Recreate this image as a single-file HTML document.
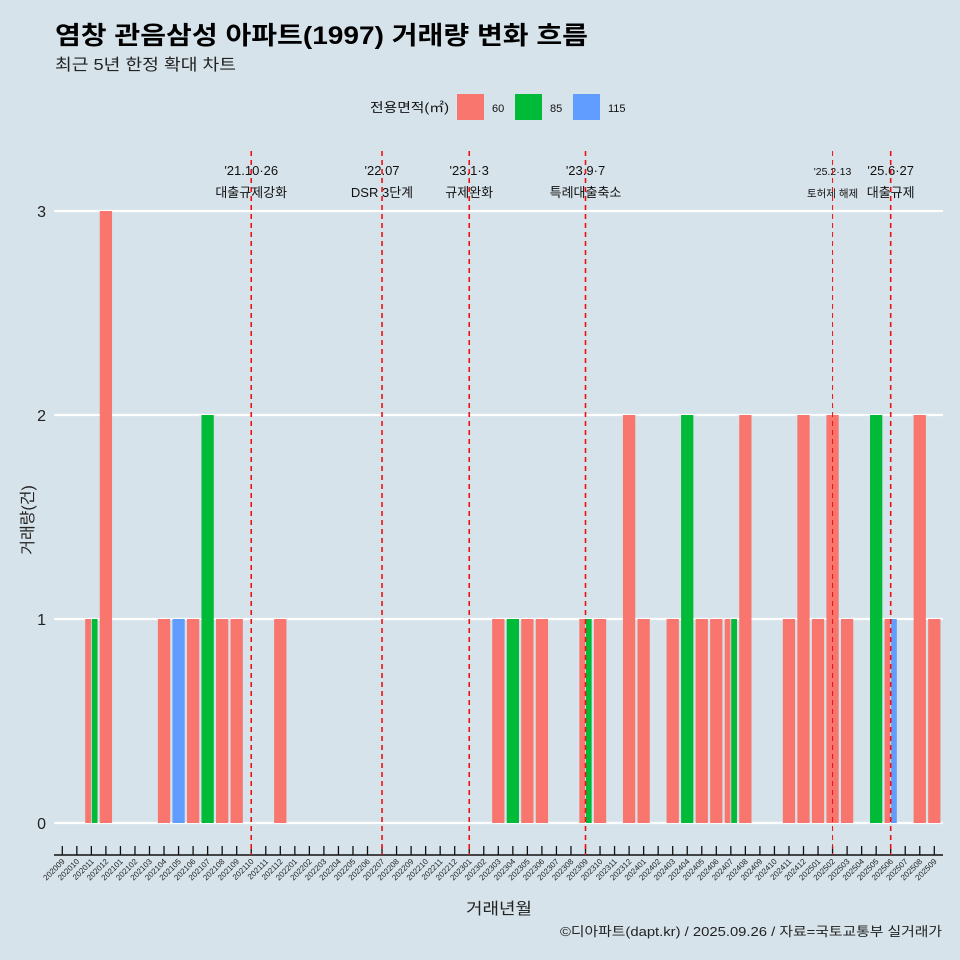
<!DOCTYPE html>
<html><head><meta charset="utf-8">
<style>
html,body{margin:0;padding:0;background:#d6e3ea;}
svg{display:block;font-family:"Liberation Sans","Noto Sans CJK KR",sans-serif;}
</style></head>
<body>
<svg id="chart" width="960" height="960" viewBox="0 0 960 960">
<rect x="0" y="0" width="960" height="960" fill="#d6e3ea"/>
<text x="55" y="44" font-size="25" font-weight="bold" fill="#000" textLength="533" lengthAdjust="spacingAndGlyphs">염창 관음삼성 아파트(1997) 거래량 변화 흐름</text>
<text x="55" y="70" font-size="16" fill="#222" textLength="181" lengthAdjust="spacingAndGlyphs">최근 5년 한정 확대 차트</text>
<g>
<text x="370" y="112" font-size="13" fill="#111" textLength="79" lengthAdjust="spacingAndGlyphs">전용면적(㎡)</text>
<rect x="457" y="94" width="27" height="26" fill="#F8766D"/>
<text x="492" y="112" font-size="11" fill="#111">60</text>
<rect x="515" y="94" width="27" height="26" fill="#00BA38"/>
<text x="550" y="112" font-size="11" fill="#111">85</text>
<rect x="573" y="94" width="27" height="26" fill="#619CFF"/>
<text x="608" y="112" font-size="11" fill="#111">115</text>
</g>
<g id="grid"></g><g id="bars"></g><g id="xaxis"></g><g id="events"></g>
<text x="499" y="914" font-size="16" text-anchor="middle" fill="#222" textLength="66" lengthAdjust="spacingAndGlyphs">거래년월</text>
<text transform="translate(33,520) rotate(-90)" font-size="16" text-anchor="middle" fill="#222">거래량(건)</text>
<text x="942" y="936" font-size="13" text-anchor="end" fill="#222" textLength="382" lengthAdjust="spacingAndGlyphs">©디아파트(dapt.kr) / 2025.09.26 / 자료=국토교통부 실거래가</text>
</svg>
<script>
const months=["202009","202010","202011","202012","202101","202102","202103","202104","202105","202106","202107","202108","202109","202110","202111","202112","202201","202202","202203","202204","202205","202206","202207","202208","202209","202210","202211","202212","202301","202302","202303","202304","202305","202306","202307","202308","202309","202310","202311","202312","202401","202402","202403","202404","202405","202406","202407","202408","202409","202410","202411","202412","202501","202502","202503","202504","202505","202506","202507","202508","202509"];
const types=["60","85","115"];
const colors={"60":"#F8766D","85":"#00BA38","115":"#619CFF"};
const recMonth=["202011","202011","202012","202104","202105","202106","202107","202108","202109","202112","202303","202304","202305","202306","202309","202309","202310","202312","202401","202403","202404","202405","202406","202407","202407","202408","202411","202412","202501","202502","202503","202505","202506","202506","202508","202509"];
const recType=["60","85","60","60","115","60","85","60","60","60","60","85","60","60","60","85","60","60","60","60","85","60","60","60","85","60","60","60","60","60","60","85","60","115","60","60"];
const recCount=[1,1,3,1,1,1,2,1,1,1,1,1,1,1,1,1,1,2,1,1,2,1,1,1,1,2,1,2,1,2,1,2,1,1,2,1];
const yTicks=[0,1,2,3];
const evMonth=["202110","202207","202301","202309","202502","202506"];
const evLine1=["'21.10·26","'22.07","'23.1·3","'23.9·7","'25.2·13","'25.6·27"];
const evLine2=["대출규제강화","DSR 3단계","규제완화","특례대출축소","토허제 해제","대출규제"];
const evSmall=[false,false,false,false,true,false];

const NS="http://www.w3.org/2000/svg";
const x0=62.3, step=(934.3-62.3)/60;
const xs=m=>x0+months.indexOf(m)*step;
const ys=v=>823-v*204;
function mk(tag,attrs,parent){const e=document.createElementNS(NS,tag);for(const k in attrs)e.setAttribute(k,attrs[k]);parent.appendChild(e);return e;}
const grid=document.getElementById('grid');
yTicks.forEach(t=>{
  const l=mk('line',{x1:54,x2:943,y1:ys(t),y2:ys(t),stroke:'#fff','stroke-width':2.2},grid);
  
  
  const tx=mk('text',{x:46,y:ys(t)+6,'font-size':16,'text-anchor':'end',fill:'#222'},grid);
  tx.textContent=t;
  
  
});
const bars=document.getElementById('bars');
const band=step*0.9;
months.forEach(m=>{
  const idx=[];recMonth.forEach((mm,i)=>{if(mm===m)idx.push(i);});
  idx.sort((a,b)=>types.indexOf(recType[a])-types.indexOf(recType[b]));
  const w=band/(idx.length||1);
  idx.forEach((i,k)=>{
    const left=xs(m)-band/2+k*w;
    const r=mk('rect',{x:left+0.4,y:ys(recCount[i]),width:w-0.8,height:ys(0)-ys(recCount[i]),fill:colors[recType[i]]},bars);
    
    
  });
});
const xa=document.getElementById('xaxis');
const ax=mk('line',{x1:54,x2:943,y1:855,y2:855,stroke:'#111','stroke-width':1.5},xa);


months.forEach(m=>{
  const x=xs(m);
  const t=mk('line',{x1:x,x2:x,y1:846,y2:855,stroke:'#111','stroke-width':1.3},xa);
  
  
  const tx=mk('text',{transform:`translate(${x+3},${862}) rotate(-45)`,'font-size':8,'text-anchor':'end',fill:'#222'},xa);
  tx.textContent=m;
  
  
});
const ev=document.getElementById('events');
evMonth.forEach((m,i)=>{
  const x=xs(m);
  const fs=evSmall[i]?10.5:13;
  const a=mk('text',{x:x,y:175,'font-size':fs,'text-anchor':'middle',fill:'#111'},ev);
  a.textContent=evLine1[i];
  
  
  const b=mk('text',{x:x,y:197,'font-size':fs,'text-anchor':'middle',fill:'#111'},ev);
  b.textContent=evLine2[i];
  
  
  const l=mk('line',{x1:x,x2:x,y1:151,y2:855,stroke:'#ee1111','stroke-width':evSmall[i]?1:1.6,'stroke-dasharray':'5,4'},ev);
  
  
});
</script>
</body></html>
